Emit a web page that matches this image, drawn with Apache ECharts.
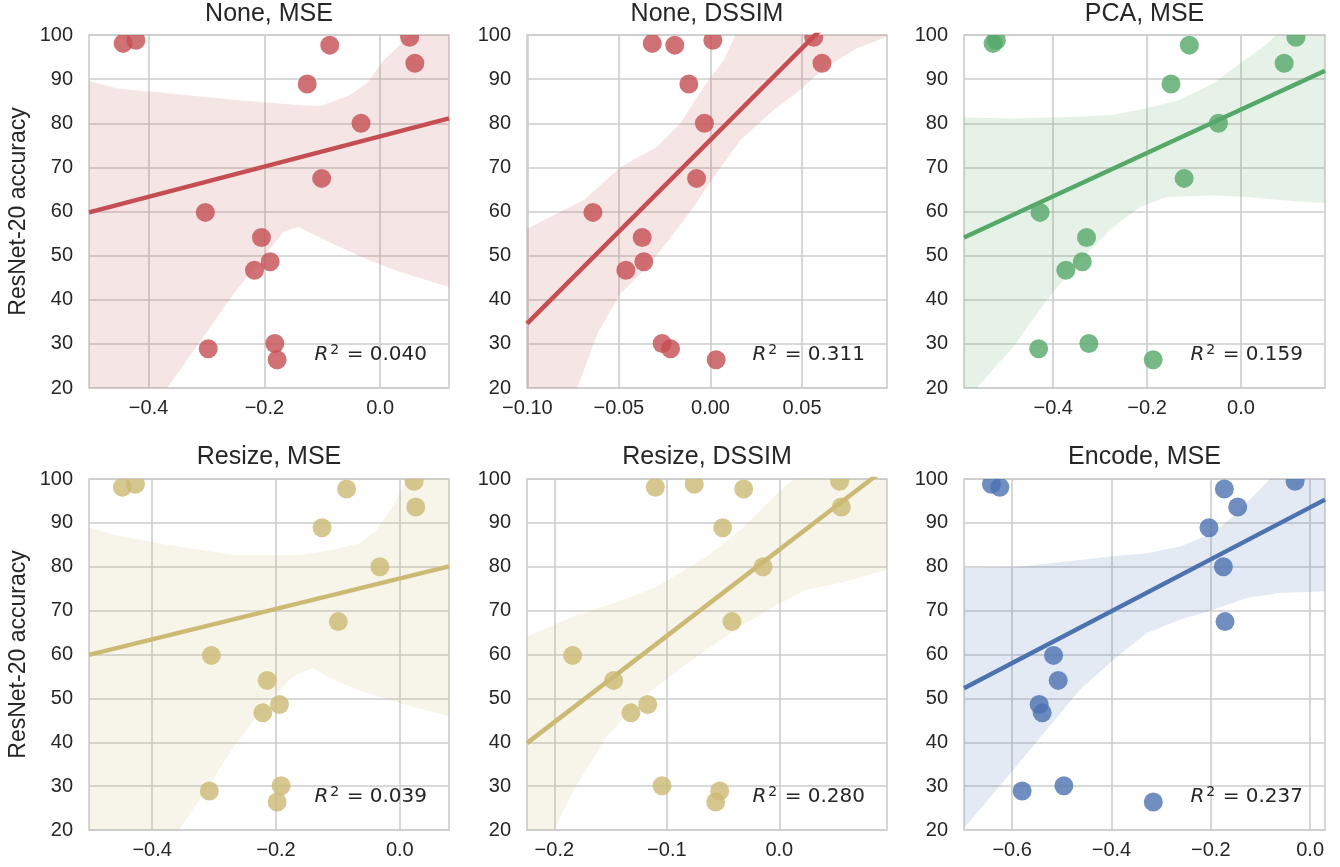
<!DOCTYPE html>
<html><head><meta charset="utf-8">
<script src="https://cdn.jsdelivr.net/npm/echarts@6/dist/echarts.min.js"></script>
<style>html,body{margin:0;padding:0;background:#fff}#chart{width:1340px;height:867px}</style>
</head><body><div id="chart"></div>
<script>
// ---- data ----
const panelTitles = ['None, MSE', 'None, DSSIM', 'PCA, MSE', 'Resize, MSE', 'Resize, DSSIM', 'Encode, MSE'];
const r2Labels = ['0.040', '0.311', '0.159', '0.039', '0.280', '0.237'];
const accuracy = [98.1, 98.8, 97.7, 88.9, 99.5, 93.6, 80.0, 67.5, 59.8, 54.1, 48.6, 46.7, 28.9, 30.1, 26.4];

const noneMSE    = [-0.444, -0.422, -0.087, -0.126, 0.051, 0.060, -0.033, -0.101, -0.302, -0.205, -0.190, -0.217, -0.297, -0.182, -0.178];
const noneDSSIM  = [-0.0318, 0.0013, -0.0195, -0.0118, 0.0564, 0.0609, -0.0033, -0.0076, -0.0642, -0.0373, -0.0364, -0.0462, -0.0218, -0.0264, 0.0031];
const pcaMSE     = [-0.528, -0.521, -0.110, -0.149, 0.117, 0.092, -0.048, -0.121, -0.428, -0.329, -0.338, -0.373, -0.431, -0.324, -0.187];
const resizeMSE  = [-0.448, -0.427, -0.0859, -0.1256, 0.0231, 0.0258, -0.0322, -0.0993, -0.3044, -0.2142, -0.1944, -0.2212, -0.3077, -0.1917, -0.1981];
const resizeDSSIM= [-0.1102, -0.0756, -0.0317, -0.0504, 0.0536, 0.0551, -0.0145, -0.0421, -0.1837, -0.1473, -0.1170, -0.1319, -0.0530, -0.1043, -0.0566];
const encodeMSE  = [-0.6249, -0.6417, -0.1727, -0.2036, -0.0302, -0.1458, -0.1747, -0.1713, -0.5167, -0.5073, -0.5456, -0.5395, -0.5799, -0.4959, -0.3158];

const xMins = [-0.503, -0.1002, -0.590, -0.502, -0.2243, -0.697];
const xMaxs = [0.119, 0.0964, 0.179, 0.0795, 0.0957, 0.030];
const xTicks = [[-0.4, -0.2, 0.0], [-0.10, -0.05, 0.00, 0.05], [-0.4, -0.2, 0.0], [-0.4, -0.2, 0.0], [-0.2, -0.1, 0.0], [-0.6, -0.4, -0.2, 0.0]];
const xDecimals = [1, 2, 1, 1, 1, 1];
const yTicks = [20, 30, 40, 50, 60, 70, 80, 90, 100];

// fitted regression lines (end points)
const fit1 = [[-0.503, 59.8], [0.119, 81.1]];
const fit2 = [[-0.1002, 34.6], [0.0964, 116.3]];
const fit3 = [[-0.590, 54.1], [0.179, 91.9]];
const fit4 = [[-0.502, 59.9], [0.0795, 80.1]];
const fit5 = [[-0.2243, 39.8], [0.0957, 102.7]];
const fit6 = [[-0.697, 52.3], [0.030, 95.3]];

// confidence bands: upper and lower edges
const upper1 = [[-0.503, 89.6], [-0.454, 87.9], [-0.368, 86.8], [-0.253, 85.3], [-0.138, 84.1], [-0.103, 83.9], [-0.052, 86.4], [-0.023, 89.0], [0.006, 94.3], [0.052, 100], [0.119, 110]];
const lower1 = [[-0.503, -4.8], [-0.368, 20], [-0.310, 30.7], [-0.253, 41.4], [-0.195, 50.7], [-0.167, 55.4], [-0.141, 56.5], [-0.080, 52.6], [-0.023, 49.2], [0.034, 46.3], [0.119, 42.9]];
const upper2 = [[-0.1002, 56.1], [-0.0691, 62.6], [-0.0491, 70.1], [-0.0291, 74.7], [-0.0164, 80.0], [-0.0036, 88.3], [0.0073, 94.3], [0.0136, 100], [0.0964, 140]];
const lower2 = [[-0.1002, -10.6], [-0.0727, 20], [-0.0618, 32.3], [-0.0491, 41.4], [-0.0345, 47.4], [-0.0200, 55.0], [-0.0091, 61.1], [0.0018, 67.9], [0.0164, 76.2], [0.0345, 83.0], [0.0500, 87.9], [0.0618, 92.4], [0.0800, 97.0], [0.0964, 99.6]];
const upper3 = [[-0.590, 81.3], [-0.485, 81.1], [-0.343, 81.5], [-0.272, 81.9], [-0.201, 83.4], [-0.130, 85.3], [-0.059, 89.0], [-0.002, 93.6], [0.048, 97.4], [0.076, 100], [0.179, 115]];
const lower3 = [[-0.590, 16.9], [-0.563, 20], [-0.485, 29.3], [-0.414, 39.9], [-0.343, 49.0], [-0.272, 56.5], [-0.215, 61.0], [-0.158, 63.3], [-0.059, 63.7], [0.012, 63.3], [0.083, 62.6], [0.133, 62.2], [0.179, 62.0]];
const upper4 = [[-0.502, 89.0], [-0.456, 87.1], [-0.376, 85.0], [-0.268, 82.7], [-0.161, 82.7], [-0.107, 83.9], [-0.064, 85.4], [-0.038, 88.4], [-0.011, 93.8], [0.011, 100], [0.0795, 110]];
const lower4 = [[-0.502, -9.7], [-0.357, 20], [-0.322, 27.2], [-0.268, 39.0], [-0.215, 48.9], [-0.172, 55.0], [-0.140, 56.9], [-0.107, 54.2], [-0.054, 51.2], [0.0, 48.9], [0.0795, 45.9]];
const upper5 = [[-0.2243, 64.1], [-0.1828, 68.7], [-0.1384, 72.5], [-0.1087, 75.5], [-0.0939, 77.8], [-0.0643, 82.4], [-0.0347, 88.4], [-0.011, 94.5], [0.0068, 98.7], [0.0127, 100], [0.0957, 120]];
const lower5 = [[-0.2243, 8.1], [-0.2006, 20], [-0.1828, 29.1], [-0.1532, 41.3], [-0.1236, 49.7], [-0.0939, 55.7], [-0.0643, 61.1], [-0.0347, 66.4], [-0.0050, 70.9], [0.0246, 74.8], [0.0542, 76.3], [0.0957, 79.3]];
const upper6 = [[-0.697, 79.7], [-0.598, 79.9], [-0.531, 80.7], [-0.396, 82.4], [-0.329, 83.1], [-0.262, 84.6], [-0.195, 87.7], [-0.148, 92.2], [-0.108, 96.8], [-0.081, 100], [0.030, 120]];
const lower6 = [[-0.697, 20.4], [-0.598, 33.7], [-0.531, 42.8], [-0.464, 51.9], [-0.396, 58.8], [-0.329, 64.9], [-0.262, 67.9], [-0.195, 70.2], [-0.128, 72.9], [-0.0605, 74.0], [0.030, 74.4]];

// ---- assembly ----
const xValues = [noneMSE, noneDSSIM, pcaMSE, resizeMSE, resizeDSSIM, encodeMSE];
const fits = [fit1, fit2, fit3, fit4, fit5, fit6];
const uppers = [upper1, upper2, upper3, upper4, upper5, upper6];
const lowers = [lower1, lower2, lower3, lower4, lower5, lower6];
const colors = ['#C44E52', '#C44E52', '#55A868', '#CCB974', '#CCB974', '#4C72B0'];

const FONT = '"Liberation Sans", Arial, Helvetica, sans-serif';
const MATH = '"DejaVu Sans", sans-serif';
const TXT = '#262626';
const GRIDC = '#cccccc';
const gridLeft = [89, 527, 964];
const gridW = [360, 360, 361];
const gridTop = [35, 479];
const gridH = [353, 351];
const titleMid = [14.5, 457.5];

function rgba(hex, a) {
  const n = parseInt(hex.slice(1), 16);
  return 'rgba(' + (n >> 16 & 255) + ',' + (n >> 8 & 255) + ',' + (n & 255) + ',' + a + ')';
}
function fmt(v, d) {
  let s = Math.abs(v) < 1e-9 ? (0).toFixed(d) : v.toFixed(d);
  return s.replace('-', '\u2212');
}

const grids = [], xAxes = [], yAxes = [], series = [], titles = [];
for (let i = 0; i < 6; i++) {
  const col = i % 3, row = Math.floor(i / 3);
  const L = gridLeft[col], T = gridTop[row], W = gridW[col], H = gridH[row];
  const color = colors[i];
  grids.push({left: L, top: T, width: W, height: H, show: true, borderColor: GRIDC, borderWidth: 1.6, backgroundColor: 'transparent'});
  xAxes.push({
    type: 'value', gridIndex: i, min: xMins[i], max: xMaxs[i],
    axisLine: {show: false},
    axisTick: {show: false, customValues: xTicks[i]},
    axisLabel: {customValues: xTicks[i], formatter: v => fmt(v, xDecimals[i]), color: TXT, fontSize: 20, fontFamily: FONT, margin: 10},
    splitLine: {show: true, lineStyle: {color: GRIDC, width: 1.6}}
  });
  const ya = {
    type: 'value', gridIndex: i, min: 20, max: 100,
    axisLine: {show: false},
    axisTick: {show: false, customValues: yTicks},
    axisLabel: {customValues: yTicks, color: TXT, fontSize: 20, fontFamily: FONT, margin: 16},
    splitLine: {show: true, lineStyle: {color: GRIDC, width: 1.6}}
  };
  if (col === 0) {
    Object.assign(ya, {name: 'ResNet-20 accuracy', nameLocation: 'middle', nameRotate: 90, nameGap: 59,
      nameTextStyle: {fontSize: 23, fontFamily: FONT, color: TXT}});
  }
  yAxes.push(ya);

  // scatter points
  series.push({
    type: 'custom', xAxisIndex: i, yAxisIndex: i, clip: true, silent: true,
    data: xValues[i].map((x, k) => [x, accuracy[k]]),
    renderItem: (params, api) => {
      const c = api.coord([api.value(0), api.value(1)]);
      return {type: 'circle', shape: {cx: c[0], cy: c[1], r: 9.5}, style: {fill: rgba(color, 0.8)}};
    }
  });
  // confidence band
  series.push({
    type: 'custom', xAxisIndex: i, yAxisIndex: i, clip: true, silent: true,
    data: [[0, 0]],
    renderItem: (params, api) => {
      const pts = uppers[i].map(d => api.coord(d)).concat(lowers[i].slice().reverse().map(d => api.coord(d)));
      return {type: 'polygon', shape: {points: pts}, style: {fill: rgba(color, 0.15)}};
    }
  });
  // regression line
  series.push({
    type: 'line', xAxisIndex: i, yAxisIndex: i, data: fits[i], symbol: 'none', clip: true, silent: true,
    lineStyle: {color: color, width: 4.5}
  });

  titles.push({
    text: panelTitles[i], left: L + W / 2, top: titleMid[row], textAlign: 'center', textVerticalAlign: 'middle', padding: 0,
    textStyle: {fontFamily: FONT, fontSize: 25, fontWeight: 'normal', color: TXT}
  });
  titles.push({
    text: '{r|R}{s|2}{n| = ' + r2Labels[i] + '}', left: L + W - 22, top: T + H - 33, textAlign: 'right', textVerticalAlign: 'middle', padding: 0,
    textStyle: {
      fontWeight: 'normal',
      rich: {
        r: {fontFamily: MATH, fontStyle: 'italic', fontWeight: 'normal', fontSize: 20, color: TXT, lineHeight: 24},
        s: {fontFamily: MATH, fontWeight: 'normal', fontSize: 14, color: TXT, verticalAlign: 'top', padding: [0, 1, 0, 2], lineHeight: 14},
        n: {fontFamily: MATH, fontWeight: 'normal', fontSize: 20, color: TXT, lineHeight: 24}
      }
    }
  });
}

const chart = echarts.init(document.getElementById('chart'), null, {renderer: 'canvas'});
chart.setOption({
  animation: false,
  backgroundColor: '#ffffff',
  title: titles, grid: grids, xAxis: xAxes, yAxis: yAxes, series: series
});
</script></body></html>
